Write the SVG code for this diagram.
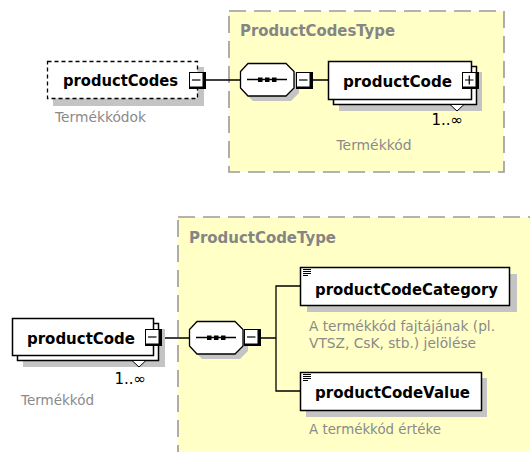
<svg xmlns="http://www.w3.org/2000/svg" width="530" height="452" viewBox="0 0 530 452">
<style>
.type{fill:#ffffc6;stroke:#9a9a9a;stroke-width:1.6;stroke-dasharray:17 8}
.tname{font-family:'DejaVu Sans',sans-serif;font-weight:bold;font-size:15px;fill:#858585}
.node{fill:#fff;stroke:#000;stroke-width:1.5}
.shadow{fill:#c4c4c4}
.lbl{font-family:'DejaVu Sans',sans-serif;font-weight:bold;font-size:15.5px;fill:#000}
.desc{font-family:'DejaVu Sans',sans-serif;font-size:13.8px;fill:#8a8a8a}
.occ{font-family:'DejaVu Sans',sans-serif;font-size:15px;fill:#000}
.wire{fill:none;stroke:#000;stroke-width:1.3}
</style>
<defs>
<g id="minus">
<rect x="0" y="0" width="17" height="17" fill="#000"/>
<rect x="0.5" y="0.5" width="13.5" height="14.5" fill="#fff" stroke="#000"/>
<path d="M3 8H11.5" stroke="#000" stroke-width="1.2"/>
</g>
<g id="plus">
<rect x="0" y="0" width="17" height="17" fill="#000"/>
<rect x="0.5" y="0.5" width="13.5" height="14.5" fill="#fff" stroke="#000"/>
<path d="M3 8H11.5M7.25 3.5V12.5" stroke="#000" stroke-width="1.2"/>
</g>
<g id="seq">
<path d="M13 5H51L59 13V30L51 38H13L5 30V13Z" class="shadow"/>
<path d="M8 0.5H46L54 8.5V25L46 33H8L0.5 25V8.5Z" fill="#fff" stroke="#000" stroke-width="1.3"/>
<path d="M7 16.5H47" stroke="#000" stroke-width="1.3"/>
<rect x="18" y="14.5" width="4.5" height="4.5" fill="#000"/>
<rect x="25" y="14.5" width="4.5" height="4.5" fill="#000"/>
<rect x="32" y="14.5" width="4.5" height="4.5" fill="#000"/>
</g>
<g id="simple">
<path d="M0 0.5H8M0 2.5H8M0 4.5H8M0 6.5H5" stroke="#000" stroke-width="1"/>
</g>
</defs>

<g id="ProductCodesType">
<rect class="type" x="229" y="11" width="275" height="161"/>
<text class="tname" x="240" y="36" textLength="155" lengthAdjust="spacingAndGlyphs">ProductCodesType</text>
</g>

<g id="ProductCodeType">
<rect class="type" x="178" y="217" width="360" height="250"/>
<text class="tname" x="189" y="243" textLength="147" lengthAdjust="spacingAndGlyphs">ProductCodeType</text>
</g>

<g id="connectors">
<path class="wire" d="M206 80H240M313 80H328"/>
<path class="wire" d="M162 338H190M261 338H276M300 286H276V391H300"/>
</g>

<g id="productCodes">
<rect class="shadow" x="53" y="67" width="151" height="39"/>
<rect x="47.5" y="61.5" width="150" height="37" fill="#fff" stroke="#000" stroke-width="1.3" stroke-dasharray="4 3"/>
<text class="lbl" x="63" y="86" textLength="115" lengthAdjust="spacingAndGlyphs">productCodes</text>
<use href="#minus" x="189" y="72"/>
<text class="desc" x="55" y="122" textLength="91" lengthAdjust="spacingAndGlyphs">Termékkódok</text>
</g>

<g id="sequence1">
<use href="#seq" x="240" y="63"/>
<use href="#minus" x="296" y="72"/>
</g>

<g id="productCode1">
<rect class="shadow" x="339" y="72" width="143" height="39"/>
<rect class="node" x="333.5" y="66.5" width="143" height="38"/>
<rect class="node" x="328.5" y="61.5" width="143" height="38"/>
<text class="lbl" x="343" y="87" textLength="109" lengthAdjust="spacingAndGlyphs">productCode</text>
<use href="#plus" x="462" y="72"/>
<path d="M450 104.5H464L457 111Z" fill="#fff" stroke="#000" stroke-width="1"/>
<text class="occ" x="463" y="125" text-anchor="end">1..∞</text>
<text class="desc" x="374" y="150" text-anchor="middle" textLength="75" lengthAdjust="spacingAndGlyphs">Termékkód</text>
</g>

<g id="productCode2">
<rect class="shadow" x="23" y="329" width="142" height="38"/>
<rect class="node" x="17.5" y="323.5" width="141" height="37"/>
<rect class="node" x="12.5" y="318.5" width="141" height="37"/>
<text class="lbl" x="27" y="344" textLength="108" lengthAdjust="spacingAndGlyphs">productCode</text>
<use href="#minus" x="145" y="329"/>
<path d="M132 360.5H146L139 367Z" fill="#fff" stroke="#000" stroke-width="1"/>
<text class="occ" x="146" y="384" text-anchor="end">1..∞</text>
<text class="desc" x="21" y="405" textLength="73" lengthAdjust="spacingAndGlyphs">Termékkód</text>
</g>

<g id="sequence2">
<use href="#seq" x="189" y="321"/>
<use href="#minus" x="244" y="329"/>
</g>

<g id="productCodeCategory">
<rect class="shadow" x="307" y="274" width="210" height="38"/>
<rect class="node" x="300.5" y="267.5" width="209" height="38"/>
<use href="#simple" x="303" y="269"/>
<text class="lbl" x="315" y="295" textLength="183" lengthAdjust="spacingAndGlyphs">productCodeCategory</text>
<text class="desc" x="309" y="331" textLength="186" lengthAdjust="spacingAndGlyphs">A termékkód fajtájának (pl.</text>
<text class="desc" x="309" y="348" textLength="167" lengthAdjust="spacingAndGlyphs">VTSZ, CsK, stb.) jelölése</text>
</g>

<g id="productCodeValue">
<rect class="shadow" x="306" y="378" width="181" height="39"/>
<rect class="node" x="300.5" y="372.5" width="181" height="38"/>
<use href="#simple" x="303" y="374"/>
<text class="lbl" x="315" y="398" textLength="155" lengthAdjust="spacingAndGlyphs">productCodeValue</text>
<text class="desc" x="309" y="434" textLength="132" lengthAdjust="spacingAndGlyphs">A termékkód értéke</text>
</g>
</svg>
